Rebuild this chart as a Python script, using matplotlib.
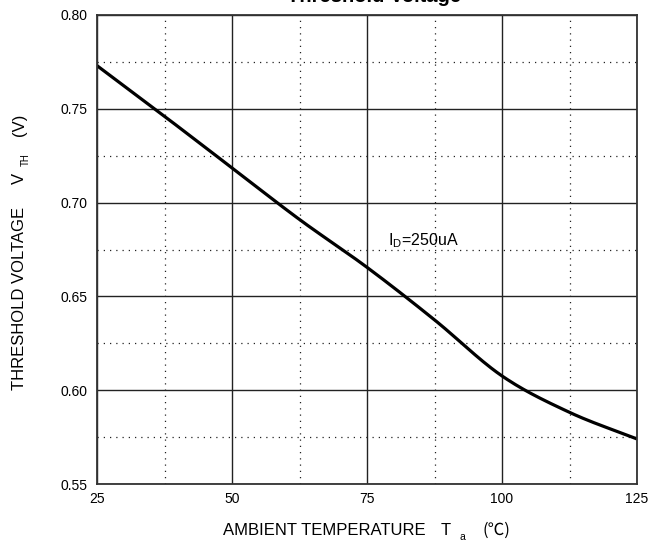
import matplotlib
matplotlib.use("Agg")
import matplotlib.pyplot as plt
import numpy as np

# data
temp = [25, 37.5, 50, 62.5, 75, 87.5, 100, 112.5, 125]
vth = [0.773, 0.746, 0.7185, 0.691, 0.6655, 0.6375, 0.6076, 0.5882, 0.574]
xticks = [25, 50, 75, 100, 125]
yticks = [0.55, 0.60, 0.65, 0.70, 0.75, 0.80]
xminor = [37.5, 62.5, 87.5, 112.5]
yminor = [0.575, 0.625, 0.675, 0.725, 0.775]

plt.rcParams['font.family'] = ['Liberation Sans', 'Noto Sans CJK SC', 'DejaVu Sans']
plt.rcParams['mathtext.fontset'] = 'custom'
plt.rcParams['mathtext.rm'] = 'Liberation Sans'
plt.rcParams['mathtext.it'] = 'Liberation Sans'

W, H = 648, 542
fig = plt.figure(figsize=(W / 100, H / 100), dpi=100)
ax = fig.add_axes([97 / W, 1 - 484 / H, (637 - 97) / W, (484 - 15) / H])

ax.set_xlim(25, 125)
ax.set_ylim(0.55, 0.80)
ax.set_xticks(xticks)
ax.set_xticklabels([str(t) for t in xticks])
ax.set_yticks(yticks)
ax.set_yticklabels([f"{t:.2f}" for t in yticks])
ax.set_xticks(xminor, minor=True)
ax.set_yticks(yminor, minor=True)
ax.tick_params(which='both', length=0)
ax.tick_params(axis='x', pad=6, labelsize=10)
ax.tick_params(axis='y', pad=6.5, labelsize=10)

ax.grid(True, which='major', color='#222222', linewidth=1.0)
ax.grid(True, which='minor', color='#222222', linewidth=0.9, linestyle=(0, (1, 4)))
ax.set_axisbelow(True)
for s in ax.spines.values():
    s.set_color('#333333')
    s.set_linewidth(1.3)

# smooth curve through the read points (Catmull-Rom)
tx = np.array(temp, float); vy = np.array(vth, float)
xs, ys = [], []
for i in range(len(tx) - 1):
    p0 = (tx[i - 1], vy[i - 1]) if i > 0 else (2 * tx[0] - tx[1], 2 * vy[0] - vy[1])
    p1 = (tx[i], vy[i]); p2 = (tx[i + 1], vy[i + 1])
    p3 = (tx[i + 2], vy[i + 2]) if i + 2 < len(tx) else (2 * tx[-1] - tx[-2], 2 * vy[-1] - vy[-2])
    for t in np.linspace(0, 1, 25, endpoint=False):
        t2, t3 = t * t, t * t * t
        for arr, k in ((xs, 0), (ys, 1)):
            arr.append(0.5 * (2 * p1[k] + (-p0[k] + p2[k]) * t +
                              (2 * p0[k] - 5 * p1[k] + 4 * p2[k] - p3[k]) * t2 +
                              (-p0[k] + 3 * p1[k] - 3 * p2[k] + p3[k]) * t3))
xs.append(tx[-1]); ys.append(vy[-1])
ax.plot(xs, ys, color='black', linewidth=2.3, solid_capstyle='butt')

ax.text(78.9, 0.6774, r'$\mathrm{I_{D}}$=250uA', fontsize=11.5, ha='left', va='baseline')

def px(x, y):
    return x / W, 1 - y / H

# x label pieces
fs = 12
fig.text(*px(223, 535), 'AMBIENT TEMPERATURE', fontsize=fs, ha='left', va='baseline')
fig.text(*px(441, 535), 'T', fontsize=fs, ha='left', va='baseline')
fig.text(*px(460, 540), 'a', fontsize=7.5, ha='left', va='baseline')
fig.text(*px(483, 535), '(℃)', fontsize=fs, ha='left', va='baseline',
         family=['Noto Sans CJK SC', 'DejaVu Sans'])

# y label pieces (rotated)
kw = dict(rotation=90, rotation_mode='anchor', ha='left', va='baseline')
fig.text(*px(24, 390), 'THRESHOLD VOLTAGE', fontsize=fs, **kw)
fig.text(*px(24, 184), 'V', fontsize=fs, **kw)
fig.text(*px(29, 166), 'TH', fontsize=7, **kw)
fig.text(*px(24, 136), '(V)', fontsize=fs, **kw)

fig.text(*px(374, 1.5), 'Threshold Voltage', fontsize=14.5, fontweight='bold',
         ha='center', va='baseline')

fig.savefig('out.png', dpi=100)
